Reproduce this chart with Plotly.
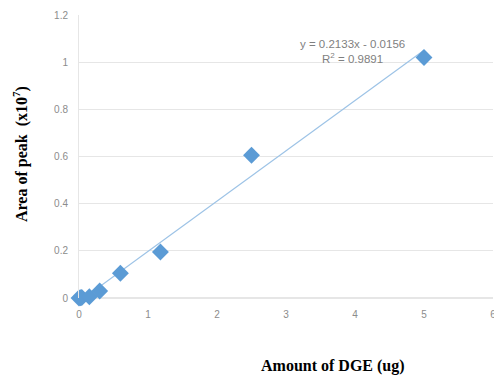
import plotly.graph_objects as go

amount = [0, 0.02, 0.04, 0.15, 0.3, 0.6, 1.18, 2.5, 5.0]
area = [0.0, 0.001, 0.002, 0.005, 0.03, 0.105, 0.195, 0.605, 1.02]
slope = 0.2133
intercept = -0.0156
r2 = 0.9891
x_ticks = [0, 1, 2, 3, 4, 5, 6]
y_ticks = [0, 0.2, 0.4, 0.6, 0.8, 1, 1.2]
y_tick_text = ["0", "0.2", "0.4", "0.6", "0.8", "1", "1.2"]

trend_x = [0, 5]
trend_y = [slope * v + intercept for v in trend_x]

L, R, T, B = 79, 1, 15, 81
W, H = 494, 379
PW, PH = W - L - R, H - T - B

def px_to_paper(px, py):
    return (px - L) / PW, (H - B - py) / PH

fig = go.Figure()
fig.add_trace(go.Scatter(x=trend_x, y=trend_y, mode="lines",
                         line=dict(color="#9dc3e6", width=1.2), hoverinfo="skip"))
fig.add_trace(go.Scatter(x=amount, y=area, mode="markers",
                         marker=dict(symbol="diamond", size=13, color="#5b9bd5")))

fig.add_annotation(x=3.96, y=1.047, xref="x", yref="y",
                   text=f"y = {slope}x - {abs(intercept)}<br>R<sup>2</sup> = {r2}",
                   showarrow=False, align="center",
                   font=dict(family="Liberation Sans", size=11.5, color="#7f7f7f"))
ax, ay = px_to_paper(333, 366)
fig.add_annotation(x=ax, y=ay, xref="paper", yref="paper",
                   xanchor="center", yanchor="middle",
                   text="<b>Amount of DGE (ug)</b>", showarrow=False,
                   font=dict(family="Liberation Serif", size=16, color="#000"))
bx, by = px_to_paper(20, 154)
fig.add_annotation(x=bx, y=by, xref="paper", yref="paper",
                   xanchor="center", yanchor="middle", textangle=-90,
                   text="<b>Area of peak  (x10<sup>7</sup>)</b>", showarrow=False,
                   font=dict(family="Liberation Serif", size=16, color="#000"))

fig.update_layout(
    width=W, height=H, showlegend=False,
    margin=dict(l=L, r=R, t=T, b=B, autoexpand=False),
    paper_bgcolor="white", plot_bgcolor="white",
    xaxis=dict(range=[0, 6], tickvals=x_ticks, showgrid=False, zeroline=False,
               showline=False, ticks="", automargin=False, ticklabelstandoff=9,
               ticklabeloverflow="allow",
               tickfont=dict(family="Liberation Sans", size=10, color="#8c8c8c")),
    yaxis=dict(range=[0, 1.2], tickvals=y_ticks, ticktext=y_tick_text,
               showgrid=True, gridcolor="#e6e6e6", gridwidth=1,
               zeroline=True, zerolinecolor="#e6e6e6",
               showline=True, linecolor="#e6e6e6", ticks="", automargin=False,
               ticklabelstandoff=8, ticklabeloverflow="allow",
               tickfont=dict(family="Liberation Sans", size=10, color="#8c8c8c")),
)
fig.update_traces(cliponaxis=False)
fig.write_html("out.html", config={"displayModeBar": False},
               post_script="document.body.style.margin='0';document.body.style.overflow='hidden';")
